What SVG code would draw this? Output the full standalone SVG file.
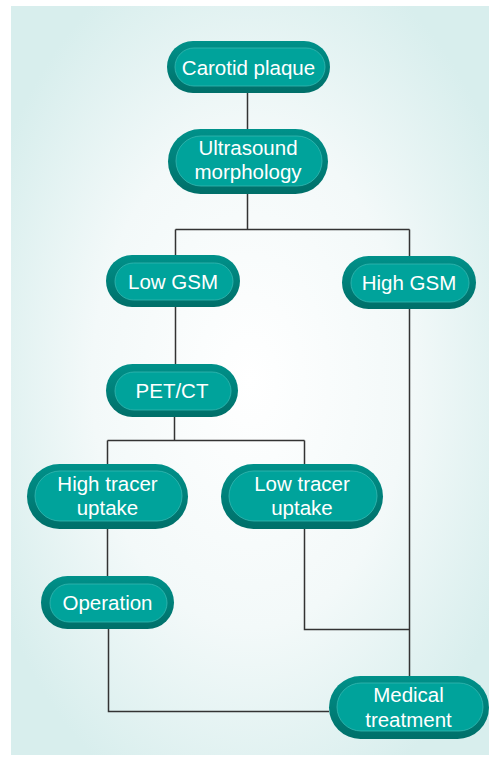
<svg xmlns="http://www.w3.org/2000/svg" width="489" height="757" viewBox="0 0 489 757">
<defs>
<radialGradient id="bg" cx="0.5" cy="0.5" r="0.6">
<stop offset="0" stop-color="#ffffff"/>
<stop offset="0.55" stop-color="#f3f9f9"/>
<stop offset="1" stop-color="#d8eeed"/>
</radialGradient>
<linearGradient id="rim" x1="0" y1="0" x2="0" y2="1">
<stop offset="0" stop-color="#00918a"/>
<stop offset="1" stop-color="#006f69"/>
</linearGradient>
<style>
.rim{fill:url(#rim);}
.in{fill:#00a39b;stroke:#35b8b1;stroke-width:0.8;}
.t{font-family:"Liberation Sans",Arial,sans-serif;font-size:20.5px;fill:#ffffff;text-anchor:middle;}
.c{fill:none;stroke:#333333;stroke-width:1.5;}
</style>
</defs>
<rect x="0" y="0" width="489" height="757" fill="#ffffff"/>
<rect x="11" y="6" width="478" height="749" fill="url(#bg)"/>
<g id="connectors" class="c">
<path d="M247.5 93V129"/>
<path d="M247.5 194V229.5M175.5 229.5H409.5M175.5 229.5V255M409.5 229.5V256"/>
<path d="M175.5 307V364"/>
<path d="M174.5 417V440.5M107.5 440.5H304.5M107.5 440.5V464M304.5 440.5V464"/>
<path d="M107.5 529V576"/>
<path d="M108.5 629V711.5H329"/>
<path d="M304.5 529V629.5H409.5"/>
<path d="M409.5 309V676"/>
</g>
<g id="n1"><rect class="rim" x="167" y="41" width="163" height="52" rx="26"/><rect class="in" x="175" y="48" width="150" height="38" rx="19"/><text class="t" x="248.5" y="74.5">Carotid plaque</text></g>
<g id="n2"><rect class="rim" x="168" y="129" width="160" height="65" rx="32.5"/><rect class="in" x="176" y="136" width="146" height="50" rx="25"/><text class="t" x="248" y="155">Ultrasound</text><text class="t" x="248" y="179">morphology</text></g>
<g id="n3"><rect class="rim" x="106" y="255" width="134" height="52" rx="26"/><rect class="in" x="115" y="263" width="118" height="37" rx="18.5"/><text class="t" x="173" y="288.5">Low GSM</text></g>
<g id="n4"><rect class="rim" x="342" y="256" width="134" height="53" rx="26.5"/><rect class="in" x="351" y="264" width="118" height="38" rx="19"/><text class="t" x="409" y="290">High GSM</text></g>
<g id="n5"><rect class="rim" x="106" y="364" width="132" height="53" rx="26.5"/><rect class="in" x="115" y="372" width="116" height="38" rx="19"/><text class="t" x="172" y="398">PET/CT</text></g>
<g id="n6"><rect class="rim" x="27" y="464" width="161" height="65" rx="32.5"/><rect class="in" x="35" y="471" width="147" height="50" rx="25"/><text class="t" x="107.5" y="491">High tracer</text><text class="t" x="107.5" y="515">uptake</text></g>
<g id="n7"><rect class="rim" x="221" y="464" width="162" height="65" rx="32.5"/><rect class="in" x="229" y="471" width="148" height="50" rx="25"/><text class="t" x="302" y="491">Low tracer</text><text class="t" x="302" y="515">uptake</text></g>
<g id="n8"><rect class="rim" x="41" y="576" width="133" height="53" rx="26.5"/><rect class="in" x="50" y="584" width="117" height="38" rx="19"/><text class="t" x="107.5" y="609.5">Operation</text></g>
<g id="n9"><rect class="rim" x="329" y="676" width="160" height="63" rx="31.5"/><rect class="in" x="337" y="683" width="146" height="48" rx="24"/><text class="t" x="408.5" y="702">Medical</text><text class="t" x="408.5" y="727">treatment</text></g>
</svg>
